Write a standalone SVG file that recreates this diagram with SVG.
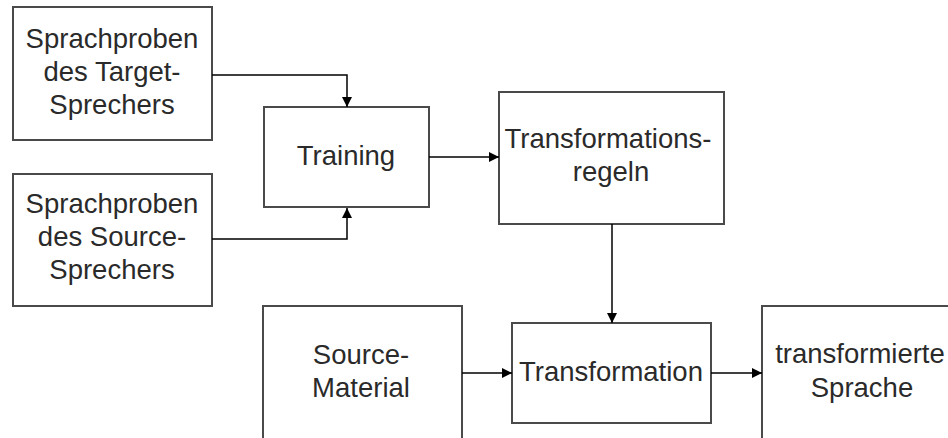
<svg xmlns="http://www.w3.org/2000/svg" width="948" height="438" viewBox="0 0 948 438">
<style>
.box{fill:#fff;stroke:#4a4a4a;stroke-width:2}
.lbl{font-family:"Liberation Sans",Arial,sans-serif;font-size:27.5px;fill:#2a2a2a;text-anchor:middle}
.con{fill:none;stroke:#000;stroke-width:1.5}
</style>
<defs>
<marker id="ah" viewBox="0 0 10 10" refX="10" refY="5" markerWidth="10" markerHeight="10" markerUnits="userSpaceOnUse" orient="auto">
<path d="M0,0 L10,5 L0,10 Z" fill="#000"/>
</marker>
</defs>
<rect width="948" height="438" fill="#fff"/>
<g id="target">
<rect class="box" x="13" y="7" width="199" height="133"/>
<text class="lbl" x="112" y="48">Sprachproben</text>
<text class="lbl" x="112" y="81">des Target-</text>
<text class="lbl" x="112" y="114">Sprechers</text>
</g>
<g id="source">
<rect class="box" x="13" y="174" width="199" height="132"/>
<text class="lbl" x="112" y="213">Sprachproben</text>
<text class="lbl" x="112" y="246">des Source-</text>
<text class="lbl" x="112" y="279">Sprechers</text>
</g>
<g id="training">
<rect class="box" x="264" y="107" width="165" height="100"/>
<text class="lbl" x="346" y="165">Training</text>
</g>
<g id="regeln">
<rect class="box" x="499" y="92" width="225" height="132"/>
<text class="lbl" x="608" y="148">Transformations-</text>
<text class="lbl" x="611" y="181">regeln</text>
</g>
<g id="material">
<rect class="box" x="263" y="306" width="199" height="150"/>
<text class="lbl" x="361" y="364">Source-</text>
<text class="lbl" x="361" y="397">Material</text>
</g>
<g id="transformation">
<rect class="box" x="512" y="323" width="199" height="100"/>
<text class="lbl" x="611" y="381">Transformation</text>
</g>
<g id="sprache">
<rect class="box" x="762" y="306" width="200" height="150"/>
<text class="lbl" x="860" y="363">transformierte</text>
<text class="lbl" x="862" y="397">Sprache</text>
</g>
<g id="connectors">
<path class="con" d="M212,75 H347 V107" marker-end="url(#ah)"/>
<path class="con" d="M212,239 H347 V208" marker-end="url(#ah)"/>
<path class="con" d="M429,157 H499" marker-end="url(#ah)"/>
<path class="con" d="M612,224 V323" marker-end="url(#ah)"/>
<path class="con" d="M462,373 H512" marker-end="url(#ah)"/>
<path class="con" d="M711,373 H762" marker-end="url(#ah)"/>
</g>
</svg>
